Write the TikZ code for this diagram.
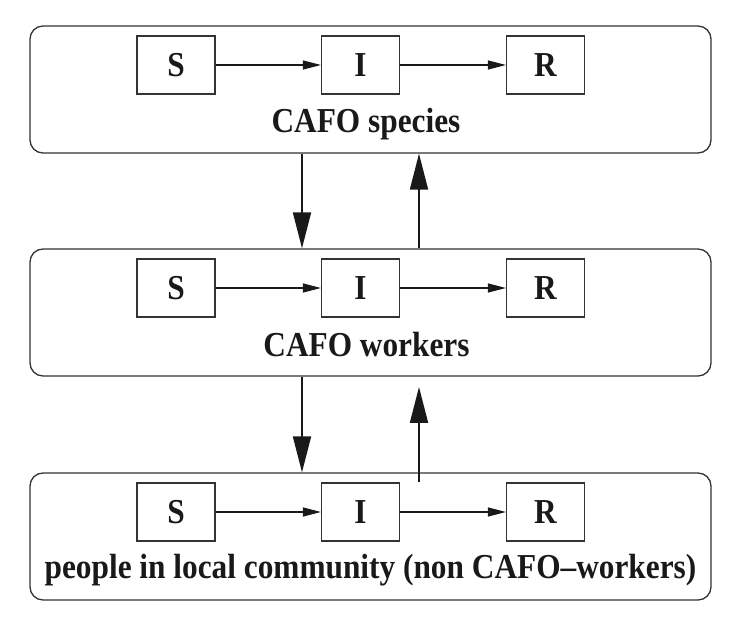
\documentclass[tikz,border=0pt]{standalone}
\usepackage{fontspec}
\setmainfont{Liberation Serif}
\newfontfamily\lblfont[FakeStretch=0.895]{Liberation Serif}
\usetikzlibrary{arrows.meta,calc}
\begin{document}
\begin{tikzpicture}[x=1pt,y=-1pt,
  lbl/.style={font=\lblfont\bfseries\fontsize{35}{40}\selectfont, text=black!90},
  group/.style={draw=black!80, line width=1.3pt, rounded corners=13pt, minimum width=681pt, minimum height=127pt, inner sep=0pt},
  state/.style={draw=black!80, line width=1.1pt, minimum width=78pt, minimum height=58pt, inner sep=0pt, lbl},
  flow/.style={line width=1.1pt, black!90, -{Triangle[length=18pt,width=9pt]}},
  big/.style={line width=1.8pt, black!90, -{Triangle[length=36pt,width=18pt]}}]
\useasboundingbox (0,0) rectangle (731,617);
% group boxes
\node[group] (g1) at (370.5,89.5) {};
\node[group] (g2) at (370.5,312.5) {};
\node[group] (g3) at (370.5,536.5) {};
% states
\foreach \r/\y in {1/65,2/288,3/512}{
  \node[state] (s\r) at (176,\y) {S};
  \node[state] (i\r) at (360.5,\y) {I};
  \node[state] (r\r) at (545.5,\y) {R};
  \draw[flow] (s\r) -- (i\r);
  \draw[flow] (i\r) -- (r\r);
}
% labels
\node[lbl, anchor=base] (l1) at (366,133) {CAFO species};
\node[lbl, anchor=base] (l2) at (366.5,357) {CAFO workers};
\node[lbl, anchor=base] (l3) at (370.5,578) {people in local community (non CAFO\textendash workers)};
% coupling arrows
\coordinate (dx) at (302,0);
\coordinate (ux) at (419,0);
\coordinate (uend) at (419,387);
\draw[big] (g1.south -| dx) -- (g2.north -| dx);
\draw[big] (g2.north -| ux) -- (g1.south -| ux);
\draw[big] (g2.south -| dx) -- (g3.north -| dx);
\draw[big] (i3.north -| ux) -- (uend);
\end{tikzpicture}
\end{document}
